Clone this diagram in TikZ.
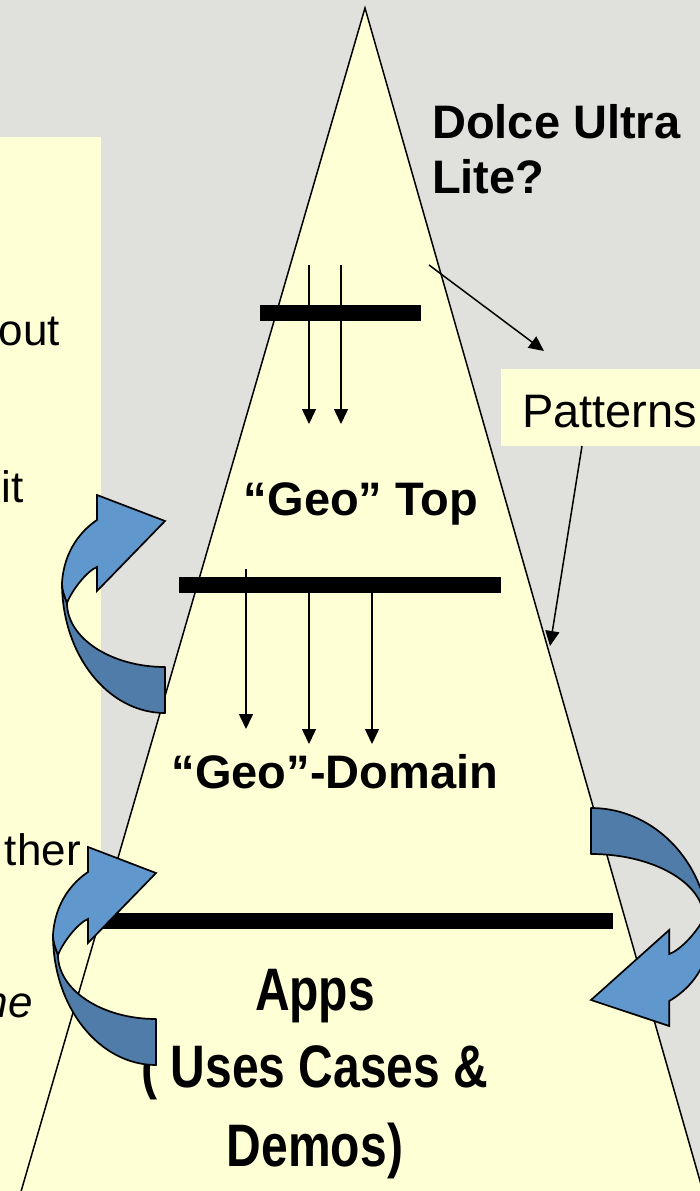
\documentclass[tikz,border=0pt]{standalone}
\usepackage{fontspec}
\setmainfont{Liberation Sans}
\newfontfamily\narrowfont[FakeStretch=0.8]{Liberation Sans}
\usetikzlibrary{arrows.meta}
\definecolor{bggray}{RGB}{224,224,220}
\definecolor{paleyellow}{RGB}{255,255,214}
\definecolor{bluelight}{RGB}{96,151,204}
\definecolor{bluedark}{RGB}{79,124,168}
\tikzset{
  conn/.style={draw=black, line width=1.5pt, -{Triangle[length=15pt,width=14pt]}},
  barbox/.style={fill=black},
  bigbold/.style={font=\fontsize{47}{55}\selectfont\bfseries, inner sep=0pt},
  bigreg/.style={font=\fontsize{47}{55}\selectfont, inner sep=0pt},
  lefttxt/.style={font=\fontsize{44}{50}\selectfont, inner sep=0pt, anchor=base east},
  appstxt/.style={font=\narrowfont\fontsize{60}{70}\selectfont\bfseries, inner sep=0pt, anchor=base},
  curvarrow/.pic={
    \filldraw[fill=bluedark, draw=black, line width=1.7pt, line join=round]
      (0,88) .. controls (0,160) and (46,218) .. (103,218) -- (103,172)
      .. controls (49,172) and (5,143) .. (5,108)
      .. controls (2,100) and (0,95) .. cycle;
    \filldraw[fill=bluelight, draw=black, line width=1.7pt, line join=miter]
      (35,0) -- (103,26) -- (35,96) -- (35,72)
      .. controls (25,76) and (10,95) .. (5,108)
      .. controls (2,100) and (0,95) .. (0,88)
      .. controls (2,55) and (20,35) .. (35,25) -- cycle;
  }
}
\begin{document}
\begin{tikzpicture}[x=1pt,y=-1pt]
\useasboundingbox (0,0) rectangle (700,1191);
\clip (0,0) rectangle (700,1191);
% background
\fill[bggray] (0,0) rectangle (700,1191);
% left text box
\fill[paleyellow] (0,137) rectangle (101,1191);
\node[lefttxt] (tout) at (60,345) {out};
\node[lefttxt] (tcit) at (24,502) {cit};
\node[lefttxt] (tther) at (81,865) {ther};
\node[lefttxt, font=\fontsize{44}{50}\selectfont\itshape] (tme) at (33,1017) {me};
% pyramid
\coordinate (apex) at (365,8);
\coordinate (bl) at (20,1195);
\coordinate (br) at (704,1195);
\fill[paleyellow] (apex) -- (bl) -- (br) -- cycle;
\draw[line width=1.5pt] (bl) -- (apex) -- (br);
% bars
\fill[barbox] (260,305) rectangle (421,321);
\fill[barbox] (179,577) rectangle (501,593);
\fill[barbox] (100,913) rectangle (613,929);
% vertical arrows
\coordinate (a1s) at (309,265); \coordinate (a1e) at (309,424);
\coordinate (a2s) at (341,265); \coordinate (a2e) at (341,424);
\draw[conn] (a1s) -- (a1e);
\draw[conn] (a2s) -- (a2e);
\coordinate (b1s) at (246,569); \coordinate (b1e) at (246,729);
\coordinate (b2s) at (309,593); \coordinate (b2e) at (309,744);
\coordinate (b3s) at (372,593); \coordinate (b3e) at (372,744);
\draw[conn] (b1s) -- (b1e);
\draw[conn] (b2s) -- (b2e);
\draw[conn] (b3s) -- (b3e);
% labels
\node[bigbold, anchor=base west] (dolce1) at (432,138) {Dolce Ultra};
\node[bigbold, anchor=base west] (dolce2) at (432,193) {Lite?};
\node[bigbold, anchor=base] (geotop) at (361,515) {“Geo” Top};
\node[bigbold, anchor=base] (geodom) at (335,788) {“Geo”-Domain};
% patterns box
\fill[paleyellow] (501,369) rectangle (700,446);
\node[bigreg, anchor=base west] (patterns) at (522,427) {Patterns};
\coordinate (dstart) at (429,265);
\coordinate (dend) at (544,351);
\draw[conn] (dstart) -- (dend);
\coordinate (pstart) at (582,446);
\coordinate (pend) at (550,646);
\draw[conn] (pstart) -- (pend);
% apps
\node[appstxt] (apps1) at (315,1010) {Apps};
\node[appstxt] (apps2) at (315,1087) {( Uses Cases \&};
\node[appstxt] (apps3) at (315,1166) {Demos)};
% curved arrows
\pic at (62,495) {curvarrow};
\pic at (53,847) {curvarrow};
\pic[xscale=-1.15, yscale=-1] at (709.45,1026) {curvarrow};
\end{tikzpicture}
\end{document}
